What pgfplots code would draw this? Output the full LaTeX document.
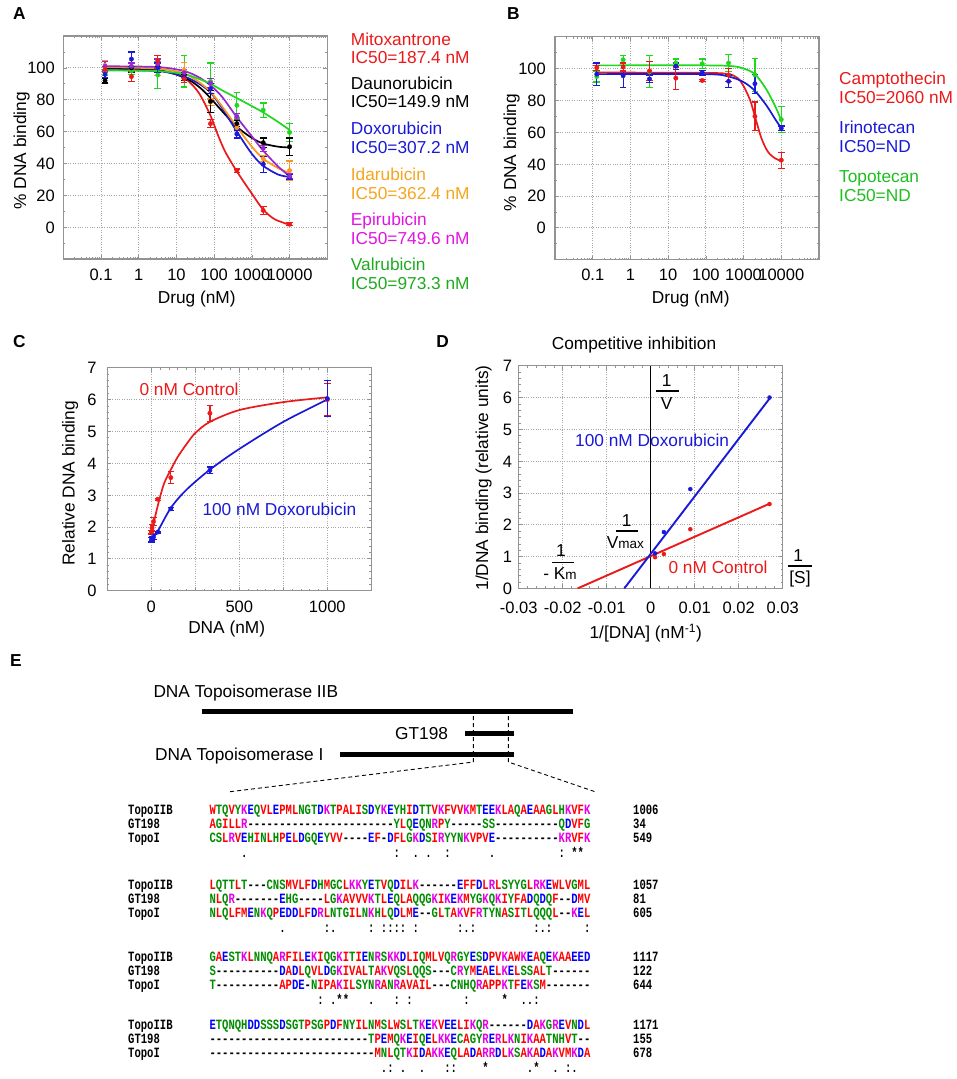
\documentclass[border=0pt]{standalone}
\usepackage{fontspec}
\setmainfont{Liberation Sans}
\newfontfamily\alnfont{Liberation Mono}[FakeStretch=0.745]
\usepackage{pgfplots}
\pgfplotsset{compat=1.18}

\definecolor{cR}{RGB}{235,25,25}
\definecolor{cB}{RGB}{25,25,215}
\definecolor{cO}{RGB}{250,150,30}
\definecolor{cOt}{RGB}{245,165,30}
\definecolor{cP}{RGB}{150,40,210}
\definecolor{cPt}{RGB}{225,20,225}
\definecolor{cG}{RGB}{30,215,30}
\definecolor{cGt}{RGB}{30,170,30}
\definecolor{cGt2}{RGB}{30,190,30}
\definecolor{aaR}{RGB}{255,0,0}
\definecolor{aaB}{RGB}{0,0,255}
\definecolor{aaM}{RGB}{230,0,230}
\definecolor{aaG}{RGB}{0,140,0}

\makeatletter
\def\aadef#1#2{\expandafter\def\csname aa@#1\endcsname{#2}}
\aadef A{aaR}\aadef V{aaR}\aadef F{aaR}\aadef P{aaR}\aadef M{aaR}\aadef I{aaR}\aadef L{aaR}\aadef W{aaR}
\aadef D{aaB}\aadef E{aaB}
\aadef R{aaM}\aadef K{aaM}
\aadef S{aaG}\aadef T{aaG}\aadef Y{aaG}\aadef H{aaG}\aadef C{aaG}\aadef N{aaG}\aadef G{aaG}\aadef Q{aaG}
\aadef -{black}
\def\seq#1{\seq@i#1\relax}
\def\seq@i#1{\ifx\relax#1\else\textcolor{\csname aa@#1\endcsname}{#1}\expandafter\seq@i\fi}
\def\cons#1{\cons@i#1\relax}
\def\cons@i#1{\ifx\relax#1\else\ifx_#1\hphantom{0}\else#1\fi\expandafter\cons@i\fi}
\makeatother

\pgfplotsset{
  panel/.style={
    scale only axis, width=264pt, height=223pt, anchor=north west,
    axis line style={draw=gray!85, line width=1.1pt},
    grid=major,
    major grid style={draw=gray!70, dotted, line width=0.8pt},
    tick style={draw=gray!85, line width=0.7pt},
    major tick length=4pt, minor tick length=2pt,
    tick label style={font=\fontsize{16.5}{18}\selectfont, text height=11.8pt, text depth=0pt, inner sep=0pt},
    xticklabel style={anchor=north},
    yticklabel style={anchor=east},
    scaled x ticks=false, scaled y ticks=false,
  },
  logpanel/.style={panel,
    xmin=0.01, xmax=100000, ymin=-20, ymax=120,
    xtick={0.1,1,10,100,1000,10000}, xticklabels={0.1,1,10,100,1000,10000},
    minor xtick={0.02,0.03,0.04,0.05,0.06,0.07,0.08,0.09,0.2,0.3,0.4,0.5,0.6,0.7,0.8,0.9,2,3,4,5,6,7,8,9,20,30,40,50,60,70,80,90,200,300,400,500,600,700,800,900,2000,3000,4000,5000,6000,7000,8000,9000,20000,30000,40000,50000,60000,70000,80000,90000},
    ytick={0,20,40,60,80,100}, yticklabels={0,20,40,60,80,100},
    minor ytick={-10,10,30,50,70,90,110}},
  pts/.style={only marks, mark=*, mark size=2.2pt, color=#1, mark options={solid, fill=#1, draw=#1},
    error bars/.cd, y dir=both, y explicit,
    error bar style={line width=1.2pt, color=#1},
    error mark options={rotate=90, line width=1.2pt, mark size=3.3pt, color=#1}},
  fit/.style={no marks, smooth, line width=1.7pt, color=#1},
}
\tikzset{lab/.style={inner sep=0pt, text height=12.4pt, text depth=0pt, font=\fontsize{17.3}{20}\selectfont},
  aln/.style={inner sep=0pt, anchor=base west, font=\alnfont\fontsize{14.2}{16}\selectfont\bfseries}}

\begin{document}
\begin{tikzpicture}
\path[use as bounding box] (0,0) rectangle (957pt,-1079pt);

% ---------------- Panel A ----------------
\begin{axis}[xmode=log, logpanel, at={(63.3pt,-36pt)},
  xticklabel style={yshift=-9.8pt}, yticklabel style={xshift=-8.3pt}]
\addplot[fit=cR] coordinates {(0.128,100)(0.64,100)(3.2,98.5)(10,96)(20,92)(40,84)(80,70)(130,57)(200,47)(400,35)(1000,21)(2000,11)(4000,5)(10000,1.5)};
\addplot[fit=black] coordinates {(0.128,99.5)(3.2,98.5)(16,94)(40,88)(80,81)(160,73)(400,63)(1000,56)(2000,52.5)(5000,50.5)(10000,50)};
\addplot[fit=cB] coordinates {(0.128,98.5)(3.2,98)(16,94.5)(40,90)(80,84.5)(160,75)(400,60)(1000,46)(2000,38.5)(5000,33)(10000,31.5)};
\addplot[fit=cO] coordinates {(0.128,100.5)(3.2,99.5)(16,96.5)(40,91)(80,85)(160,76)(400,63)(1000,50.5)(2000,43)(5000,37)(10000,34)};
\addplot[fit=cP] coordinates {(0.128,101)(3.2,100.5)(16,98)(40,94)(80,89)(160,82)(400,69)(1000,57)(2000,48)(5000,38)(10000,32)};
\addplot[fit=cG] coordinates {(0.128,98.5)(3.2,98)(16,96)(40,93)(80,90)(160,86)(400,81)(1000,76)(2000,72)(5000,66)(10000,61)};
\addplot[pts=cG] coordinates {(0.128,97) +- (0,2) (0.64,98) +- (0,2) (3.2,95.5) +- (0,8.5) (16,98) +- (0,10) (80,91.5) +- (0,11.5) (400,76.5) +- (0,8) (2000,73.5) +- (0,4.5) (10000,59.5) +- (0,5.5)};
\addplot[pts=cO] coordinates {(0.128,101.5) +- (0,3) (0.64,101) +- (0,2) (3.2,100) +- (0,5) (16,98.5) +- (0,5) (80,78.5) +- (0,2) (400,62.5) +- (0,2) (2000,43) +- (0,2) (10000,35.5) +- (0,6)};
\addplot[pts=black] coordinates {(0.128,92) +- (0,1.5) (0.64,100) +- (0,3) (3.2,101) +- (0,4) (16,94) +- (0,2) (80,79) +- (0,7) (400,65) +- (0,2) (2000,53) +- (0,3) (10000,50.5) +- (0,5.5)};
\addplot[pts=cB] coordinates {(0.128,96) +- (0,2) (0.64,105.5) +- (0,4.5) (3.2,100) +- (0,3) (16,94) +- (0,3) (80,87) +- (0,3) (400,58.5) +- (0,2.5) (2000,39.5) +- (0,5) (10000,31.5) +- (0,1.5)};
\addplot[pts=cP] coordinates {(0.128,101) +- (0,3) (0.64,101) +- (0,2) (3.2,102.5) +- (0,3) (16,97) +- (0,2) (80,90.5) +- (0,3) (400,69.5) +- (0,2) (2000,49.5) +- (0,2) (10000,32) +- (0,1.5)};
\addplot[pts=cR] coordinates {(0.128,99) +- (0,2) (0.64,94.5) +- (0,3) (3.2,104.5) +- (0,3.5) (16,93) +- (0,2) (80,65) +- (0,2.5) (400,35.5) +- (0,1) (2000,10.5) +- (0,2.5) (10000,1.8) +- (0,1)};
\end{axis}

% ---------------- Panel B ----------------
\begin{axis}[xmode=log, logpanel, at={(555pt,-36.7pt)},
  xticklabel style={yshift=-9.1pt}, yticklabel style={xshift=-9pt}]
\addplot[fit=cR] coordinates {(0.128,97.5)(100,97.3)(400,96.5)(700,94)(1000,89)(1500,80)(2000,70)(3000,56)(4500,47.5)(7000,43.5)(10000,42)};
\addplot[fit=cB] coordinates {(0.128,96.5)(100,96.5)(400,95)(1000,91.5)(2000,86)(4000,77)(7000,68)(10000,62.5)};
\addplot[fit=cG] coordinates {(0.128,102)(100,102)(500,101.5)(1000,100)(2000,96.5)(4000,87)(7000,76)(10000,67.5)};
\addplot[pts=cG] coordinates {(0.128,95) +- (0,3.5) (0.64,105.5) +- (0,2.5) (3.2,98) +- (0,10) (16,103.5) +- (0,2.5) (80,103) +- (0,3) (400,103.5) +- (0,5.5) (2000,96) +- (0,10.5) (10000,68) +- (0,8)};
\addplot[pts=cB] coordinates {(0.128,96.5) +- (0,7) (0.64,95.5) +- (0,7.5) (3.2,93.5) +- (0,2.5) (16,101.5) +- (0,2) (80,97.5) +- (0,1.5) (400,92) +- (0,4) (2000,90.5) +- (0,6) (10000,62.5) +- (0,1.5)};
\addplot[pts=cR] coordinates {(0.128,100.5) +- (0,1.5) (0.64,101) +- (0,2.5) (3.2,98.5) +- (0,6) (16,94) +- (0,7) (80,92.5) +- (0,0.8) (400,96) +- (0,4) (2000,70) +- (0,9) (10000,42.5) +- (0,5)};
\end{axis}

% ---------------- Panel C ----------------
\begin{axis}[panel, at={(107.3pt,-367.7pt)},
  xmin=-250, xmax=1250, ymin=0, ymax=7,
  xtick={0,250,500,750,1000}, xticklabels={0,,500,,1000},
  minor x tick num=4,
  ytick={0,1,2,3,4,5,6,7}, yticklabels={0,1,2,3,4,5,6,7},
  minor y tick num=4,
  xticklabel style={yshift=-9.4pt}, yticklabel style={xshift=-10.6pt}]
\addplot[fit=cR] coordinates {(1.37,1.78)(10,2.0)(25,2.4)(50,2.95)(75,3.4)(111,3.8)(150,4.2)(200,4.6)(250,4.95)(333,5.3)(500,5.67)(750,5.92)(1000,6.07)};
\addplot[fit=cB] coordinates {(1.37,1.6)(37,1.87)(111,2.6)(200,3.17)(333,3.8)(500,4.45)(750,5.3)(1000,6.0)};
\addplot[pts=cR] coordinates {(1.37,1.83) +- (0,0.05) (4.1,1.97) +- (0,0.1) (12.3,2.17) +- (0,0.12) (37,2.87) +- (0,0.03) (111,3.55) +- (0,0.18) (333,5.57) +- (0,0.25) (1000,6.0) +- (0,0.5)};
\addplot[pts=cB] coordinates {(1.37,1.6) +- (0,0.07) (4.1,1.64) +- (0,0.06) (12.3,1.68) +- (0,0.08) (37,1.84) +- (0,0.03) (111,2.57) +- (0,0.05) (333,3.78) +- (0,0.1) (1000,6.03) +- (0,0.57)};
\end{axis}

% ---------------- Panel D ----------------
\begin{axis}[panel, at={(518.7pt,-365.7pt)}, height=222.7pt,
  xmin=-0.03, xmax=0.03, ymin=0, ymax=7,
  xtick={-0.03,-0.02,-0.01,0,0.01,0.02,0.03}, xticklabels={-0.03,-0.02,-0.01,0,0.01,0.02,0.03},
  minor x tick num=4,
  ytick={0,1,2,3,4,5,6,7}, yticklabels={0,1,2,3,4,5,6,7},
  minor y tick num=4,
  xticklabel style={yshift=-13.1pt}, yticklabel style={xshift=-6.4pt}]
\addplot[black, line width=0.8pt] coordinates {(0,0)(0,7)};
\addplot[cR, line width=1.9pt] coordinates {(-0.0166,0)(0.0273,2.68)};
\addplot[cB, line width=1.9pt] coordinates {(-0.006,0)(0.0273,6.02)};
\addplot[only marks, mark=*, mark size=2pt, cR] coordinates {(0.001,0.98)(0.003,1.08)(0.009,1.86)(0.027,2.65)};
\addplot[only marks, mark=*, mark size=2pt, cB] coordinates {(0.001,1.1)(0.003,1.77)(0.009,3.12)(0.027,6.0)};
\end{axis}

\begin{scope}[x=1pt,y=-1pt]
\node[lab, font=\fontsize{17.3}{20}\selectfont\bfseries] at (19.3,13.3) {A};
\node[lab, font=\fontsize{17.3}{20}\selectfont\bfseries] at (513.3,13.3) {B};
\node[lab, font=\fontsize{17.3}{20}\selectfont\bfseries] at (19.3,341) {C};
\node[lab, font=\fontsize{17.3}{20}\selectfont\bfseries] at (442.7,341) {D};
\node[lab, font=\fontsize{17.3}{20}\selectfont\bfseries] at (16,660) {E};

\node[lab, rotate=90] at (20,150.8) {\% DNA binding};
\node[lab] at (196.7,297.7) {Drug (nM)};
\node[lab, rotate=90] at (510,152.5) {\% DNA binding};
\node[lab] at (690.7,297.7) {Drug (nM)};
\node[lab, rotate=90] at (68.3,483.3) {Relative DNA binding};
\node[lab] at (226.7,627.3) {DNA (nM)};
\node[lab, rotate=90] at (482,478) {1/DNA binding (relative units)};
\node[lab] at (645.7,632.3) {1/[DNA] (nM\textsuperscript{-1})};
\node[lab] at (634,343.3) {Competitive inhibition};

\begin{scope}[every node/.style={lab, anchor=west}]
\node[text=cR] at (350.7,39.3) {Mitoxantrone};
\node[text=cR] at (350.7,57.7) {IC50=187.4 nM};
\node[text=black] at (350.7,83.3) {Daunorubicin};
\node[text=black] at (350.7,101.7) {IC50=149.9 nM};
\node[text=cB] at (350.7,128.3) {Doxorubicin};
\node[text=cB] at (350.7,147.3) {IC50=307.2 nM};
\node[text=cOt] at (350.7,174) {Idarubicin};
\node[text=cOt] at (350.7,193.3) {IC50=362.4 nM};
\node[text=cPt] at (350.7,219.3) {Epirubicin};
\node[text=cPt] at (350.7,238.3) {IC50=749.6 nM};
\node[text=cGt] at (350.7,264) {Valrubicin};
\node[text=cGt] at (350.7,283.3) {IC50=973.3 nM};
\node[text=cR] at (839,78.7) {Camptothecin};
\node[text=cR] at (839,97.7) {IC50=2060 nM};
\node[text=cB] at (839,127.7) {Irinotecan};
\node[text=cB] at (839,146) {IC50=ND};
\node[text=cGt2] at (839,176) {Topotecan};
\node[text=cGt2] at (839,195) {IC50=ND};
\node[text=cR] at (139.3,389) {0 nM Control};
\node[text=cB] at (202.3,509) {100 nM Doxorubicin};
\node[text=cB] at (575,440) {100 nM Doxorubicin};
\node[text=cR] at (668.3,567.3) {0 nM Control};
\end{scope}

\node[lab] at (666.7,380) {1};
\draw[line width=1.6pt] (656,390.7) -- (679.3,390.7);
\node[lab] at (666.7,403.3) {V};
\node[lab] at (626.7,520) {1};
\draw[line width=1.6pt] (616,530.7) -- (638.3,530.7);
\node[lab] at (625.3,542.7) {V{\fontsize{13.5}{15}\selectfont max}};
\node[lab] at (561,550) {1};
\draw[line width=1.6pt] (551.7,562.3) -- (574.3,562.3);
\node[lab] at (560,573.3) {- K{\fontsize{13.5}{15}\selectfont m}};
\node[lab] at (798.3,555) {1};
\draw[line width=1.6pt] (788.3,565.7) -- (811.7,565.7);
\node[lab] at (800,577.7) {[S]};

\node[lab, anchor=west] at (153.3,691.7) {DNA Topoisomerase IIB};
\node[lab, anchor=east] at (448.3,733.3) {GT198};
\node[lab, anchor=west] at (155,754.3) {DNA Topoisomerase I};
\draw[line width=5pt] (201.7,711) -- (572.7,711);
\draw[line width=5pt] (465,733.3) -- (514.3,733.3);
\draw[line width=5pt] (340,754.3) -- (514.3,754.3);
\draw[line width=0.9pt, dash pattern=on 4pt off 3pt] (473.3,716) -- (473.3,762) -- (230,791.7);
\draw[line width=0.9pt, dash pattern=on 4pt off 3pt] (508.3,716) -- (508.3,762) -- (595,791.7);

\node[aln] at (128,814.1) {TopoIIB};
\node[aln] at (128,828.3) {GT198};
\node[aln] at (128,842.5) {TopoI};
\node[aln] at (209.3,814.1) {\seq{WTQVYKEQVL EPMLNGTDKT PALISDYKEY HIDTTVKFVV KMTEEKLAQA EAAGLHKVFK}};
\node[aln] at (209.3,828.3) {\seq{AGILLR---- ---------- ---------Y LQEQNRPY-- ---SS----- -----QDVFG}};
\node[aln] at (209.3,842.5) {\seq{CSLRVEHINL HPELDGQEYV V----EF-DF LGKDSIRYYN KVPVE----- -----KRVFK}};
\node[aln] at (209.3,857.8) {\cons{_____.____ __________ _________: __._.__:__ ____._____ _____:_**_}};
\node[aln] at (633,814.1) {1006};
\node[aln] at (633,828.3) {34};
\node[aln] at (633,842.5) {549};

\node[aln] at (128,889.1) {TopoIIB};
\node[aln] at (128,903.3) {GT198};
\node[aln] at (128,917.5) {TopoI};
\node[aln] at (209.3,889.1) {\seq{LQTTLT---C NSMVLFDHMG CLKKYETVQD ILK------E FFDLRLSYYG LRKEWLVGML}};
\node[aln] at (209.3,903.3) {\seq{NLQR------ -EHG----LG KAVVVKTLEQ LAQQGKIKEK MYGKQKIYFA DQDQF--DMV}};
\node[aln] at (209.3,917.5) {\seq{NLQLFMENKQ PEDDLFDRLN TGILNKHLQD LME--GLTAK VFRTYNASIT LQQQL--KEL}};
\node[aln] at (209.3,932.8) {\cons{__________ _.______:. _____:_::: :_:______: .:________ _:.:_____:}};
\node[aln] at (633,889.1) {1057};
\node[aln] at (633,903.3) {81};
\node[aln] at (633,917.5) {605};

\node[aln] at (128,961.1) {TopoIIB};
\node[aln] at (128,975.3) {GT198};
\node[aln] at (128,989.5) {TopoI};
\node[aln] at (209.3,961.1) {\seq{GAESTKLNNQ ARFILEKIQG KITIENRSKK DLIQMLVQRG YESDPVKAWK EAQEKAAEED}};
\node[aln] at (209.3,975.3) {\seq{S--------- -DADLQVLDG KIVALTAKVQ SLQQS---CR YMEAELKELS SALT------}};
\node[aln] at (209.3,989.5) {\seq{T--------- -APDE-NIPA KILSYNRANR AVAIL---CN HQRAPPKTFE KSM-------}};
\node[aln] at (209.3,1004.8) {\cons{__________ _______:_. **___.___: _:________ :_____*__. .:________}};
\node[aln] at (633,961.1) {1117};
\node[aln] at (633,975.3) {122};
\node[aln] at (633,989.5) {644};

\node[aln] at (128,1029.1) {TopoIIB};
\node[aln] at (128,1043.3) {GT198};
\node[aln] at (128,1057.5) {TopoI};
\node[aln] at (209.3,1029.1) {\seq{ETQNQHDDSS SDSGTPSGPD FNYILNMSLW SLTKEKVEEL IKQR------ DAKGREVNDL}};
\node[aln] at (209.3,1043.3) {\seq{---------- ---------- -----TPEMQ KEIQELKKEC AGYRERLKNI KAATNHVT--}};
\node[aln] at (209.3,1057.5) {\seq{---------- ---------- ------MNLQ TKIDAKKEQL ADARRDLKSA KADAKVMKDA}};
\node[aln] at (209.3,1072.8) {\cons{__________ __________ _______.:_ .__.___::_ ___*______ .*__._:.__}};
\node[aln] at (633,1029.1) {1171};
\node[aln] at (633,1043.3) {155};
\node[aln] at (633,1057.5) {678};
\end{scope}
\end{tikzpicture}
\end{document}
